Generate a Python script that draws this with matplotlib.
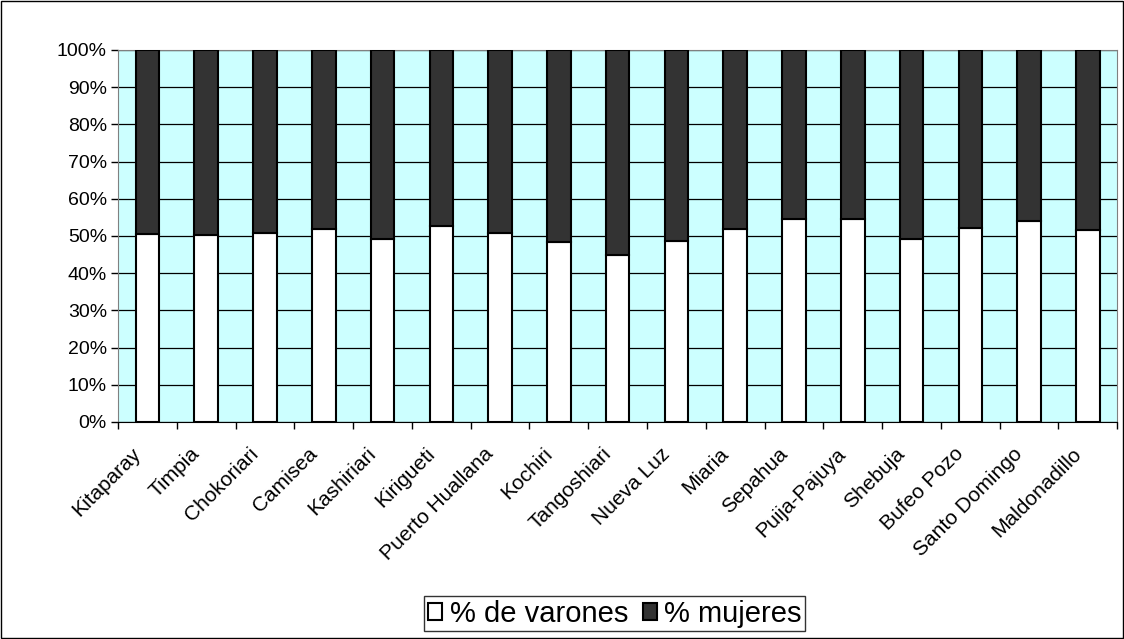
#!/usr/bin/env python3

from matplotlib import pyplot as plt
from matplotlib.ticker import FixedLocator, PercentFormatter
import numpy as np

communities = [
    "Kitaparay", "Timpia", "Chokoriari", "Camisea", "Kashiriari", "Kirigueti",
    "Puerto Huallana", "Kochiri", "Tangoshiari", "Nueva Luz", "Miaria",
    "Sepahua", "Puija-Pajuya", "Shebuja", "Bufeo Pozo", "Santo Domingo",
    "Maldonadillo",
]
pct_varones = [
    50.5, 50.2, 50.8, 51.8, 49.3, 52.6, 50.8, 48.3, 44.8, 48.7, 52.0,
    54.6, 54.5, 49.3, 52.1, 54.0, 51.5,
]
pct_mujeres = [100 - v for v in pct_varones]


def main():
    plt.rcParams["font.family"] = ["Liberation Sans", "DejaVu Sans"]
    fig = plt.figure(figsize=(11.24, 6.39), dpi=100)
    fig.patches.append(plt.Rectangle((0.001, 0.001), 0.998, 0.997, transform=fig.transFigure,
                                     fill=False, edgecolor="black", linewidth=1))
    ax = fig.add_axes([0.105, 1 - 422 / 639, 0.889, 372 / 639])

    xs = np.arange(len(communities))
    ax.set_facecolor("#CCFFFF")
    ax.bar(xs, pct_varones, width=0.4, color="white", edgecolor="black",
           linewidth=1.5, label="% de varones", zorder=3)
    ax.bar(xs, pct_mujeres, width=0.4, bottom=pct_varones, color="#333333",
           edgecolor="black", linewidth=1.5, label="% mujeres", zorder=3)

    ax.set_xlim(-0.5, len(communities) - 0.5)
    ax.set_ylim(0, 100)
    ax.set_yticks(np.arange(0, 101, 10))
    ax.yaxis.set_major_formatter(PercentFormatter(decimals=0))
    ax.yaxis.grid(True, color="black", linewidth=0.9, zorder=1)
    ax.set_axisbelow(True)

    # labels end a little left of the bar centre, as in the original
    ax.set_xticks(xs - 0.28)
    ax.set_xticklabels(communities, rotation=45, ha="right", rotation_mode="anchor")
    ax.xaxis.set_minor_locator(FixedLocator(np.arange(-0.5, len(communities), 1)))
    ax.tick_params(axis="x", which="major", length=0, pad=16, labelsize=15)
    ax.tick_params(axis="x", which="minor", length=5, direction="out", width=1)
    ax.tick_params(axis="y", length=5, direction="out", labelsize=14, width=1, pad=3)

    for side in ["top", "right", "left"]:
        ax.spines[side].set_color("#808080")
    ax.spines["bottom"].set_color("black")

    leg = fig.legend(loc="lower center", bbox_to_anchor=(0.547, 0.012), ncol=2,
                     fontsize=21, frameon=True, fancybox=False, edgecolor="black",
                     handlelength=0.5, handleheight=0.5, handletextpad=0.25,
                     columnspacing=0.5, borderpad=0.12, borderaxespad=0)
    leg.get_frame().set_linewidth(1)

    fig.savefig("out.png", dpi=100)


if __name__ == "__main__":
    main()
